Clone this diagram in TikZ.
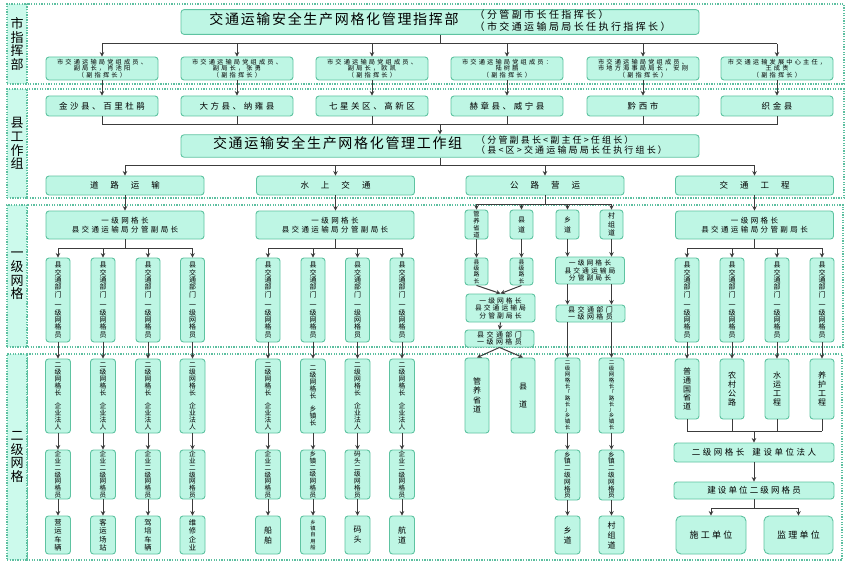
\documentclass[tikz,border=0pt]{standalone}
\usepackage{fontspec}
\setmainfont{Noto Sans CJK SC}
\usetikzlibrary{arrows.meta}
\definecolor{secc}{HTML}{5CBFA0}
\definecolor{labc}{HTML}{CCFAEC}
\definecolor{flc}{HTML}{BEF6E4}
\definecolor{bdc}{HTML}{5EC3A1}
\definecolor{arc}{HTML}{3C3C3C}
\newcommand\fsz[2]{\fontsize{#1}{#2}\selectfont}
\newcommand\lsp[1]{\addfontfeature{LetterSpace=#1}}
\begin{document}
\begin{tikzpicture}[x=1pt,y=-1pt,
 sect/.style={draw=secc,line width=1.3pt,dash pattern=on 1.3pt off 1.3pt},
 labbox/.style={sect,fill=labc,inner sep=0pt,align=center,font=\fsz{13}{13.6}},
 nbox/.style={draw=bdc,fill=flc,rounded corners=3pt,line width=0.9pt,inner sep=0.5pt,align=center},
 wh/.style 2 args={minimum width=#1,minimum height=#2},
 ln/.style={draw=arc,line width=1pt},
 arr/.style={ln,-{Stealth[length=4.5pt,width=4.5pt]}},
]
\fill[white] (0,0) rectangle (851,567);
\useasboundingbox (0,0) rectangle (851,567);
% section frames
\draw[sect] (27,4) rectangle (844,84);
\draw[sect] (27,89) rectangle (844,198);
\draw[sect] (27,205) rectangle (843,347);
\draw[sect] (27,354) rectangle (842,560);
\node[labbox,wh={20}{80}] (lab1) at (17,44) {市\\指\\挥\\部};
\node[labbox,wh={20}{109}] (lab2) at (17,143.5) {县\\工\\作\\组};
\node[labbox,wh={20}{142}] (lab3) at (17,276) {一\\级\\网\\格};
\node[labbox,wh={20}{206}] (lab4) at (17,457) {二\\级\\网\\格};
% bar coordinates
\coordinate (b1) at (0,44);
\coordinate (b2) at (0,125);
\coordinate (b3) at (0,165);
\coordinate (b4) at (0,248);
\coordinate (b5) at (0,204);
\coordinate (b6) at (0,431);
\coordinate (b7) at (0,508);
% top
\node[nbox,wh={518}{22}] (zhb) at (440,22) {\fsz{14}{16}\lsp{12}交通运输安全生产网格化管理指挥部\hspace{16pt}\fsz{10}{11}\lsp{24}\begin{tabular}{@{}l@{}}（分管副市长任指挥长）\\（市交通运输局局长任执行指挥长）\end{tabular}};
% row 1
\tikzset{r1/.style={nbox,wh={112}{23},font={\fsz{6.2}{6.6}\lsp{35}}}}
\node[r1] (r1a) at (102,68.5) {市交通运输局党组成员、\\副局长，肖池阳\\（副指挥长）};
\node[r1] (r1b) at (237,68.5) {市交通运输局党组成员、\\副局长，张勇\\（副指挥长）};
\node[r1] (r1c) at (372,68.5) {市交通运输局党组成员、\\副局长，欧凯\\（副指挥长）};
\node[r1] (r1d) at (507,68.5) {市交通运输局党组成员：\\陆树鹏\\（副指挥长）};
\node[r1] (r1e) at (643,68.5) {市交通运输局党组成员、\\市地方海事局局长，安刚\\（副指挥长）};
\node[r1] (r1f) at (777,68.5) {市交通运输发展中心主任，\\王成贵\\（副指挥长）};
% row 2
\tikzset{r2/.style={nbox,wh={112}{20},font={\fsz{8.5}{9}\lsp{30}}}}
\node[r2] (r2a) at (102,106) {金沙县、百里杜鹃};
\node[r2] (r2b) at (237,106) {大方县、纳雍县};
\node[r2] (r2c) at (372,106) {七星关区、高新区};
\node[r2] (r2d) at (507,106) {赫章县、威宁县};
\node[r2] (r2e) at (643,106) {黔西市};
\node[r2] (r2f) at (777,106) {织金县};
% working group
\node[nbox,wh={518}{22}] (gzz) at (440,146) {\fsz{14}{16}\lsp{12}交通运输安全生产网格化管理工作组\hspace{14pt}\fsz{9}{10}\lsp{24}\begin{tabular}{@{}l@{}}（分管副县长<副主任>任组长）\\（县<区>交通运输局局长任执行组长）\end{tabular}};
% row 3
\tikzset{r3/.style={nbox,wh={158}{19},font={\fsz{8.5}{9}}}}
\node[r3] (r3a) at (125,185.5) {道\hspace{12pt}路\hspace{12pt}运\hspace{12pt}输};
\node[r3] (r3b) at (335.5,185.5) {水\hspace{12pt}上\hspace{12pt}交\hspace{12pt}通};
\node[r3] (r3c) at (545,185.5) {公\hspace{12pt}路\hspace{12pt}营\hspace{12pt}运};
\node[r3] (r3d) at (754.5,185.5) {交\hspace{12pt}通\hspace{12pt}工\hspace{12pt}程};
% level-1 headers
\tikzset{h1/.style={nbox,wh={158}{28},font={\fsz{7.5}{8.5}\lsp{32}}}}
\node[h1] (h1a) at (125,225) {一级网格长\\县交通运输局分管副局长};
\node[h1] (h1b) at (335,225) {一级网格长\\县交通运输局分管副局长};
\node[h1] (h1d) at (754.5,225) {一级网格长\\县交通运输局分管副局长};
% level-1 vertical boxes
\tikzset{v1/.style={nbox,wh={24}{84},font=\fsz{7}{7.4}}}
\foreach \i/\x in {1/58,2/103,3/148,4/192.5}{
 \node[v1] (va\i) at (\x,300) {县\\交\\通\\部\\门\\[3pt]一\\级\\网\\格\\员};}
\foreach \i/\x in {1/268,2/313,3/357.5,4/402}{
 \node[v1] (vb\i) at (\x,300) {县\\交\\通\\部\\门\\[3pt]一\\级\\网\\格\\员};}
\foreach \i/\x in {1/687,2/732,3/777,4/822}{
 \node[v1] (vd\i) at (\x,300) {县\\交\\通\\部\\门\\[3pt]一\\级\\网\\格\\员};}
% level-2 road/water columns
\tikzset{p2/.style={nbox,wh={25}{74},font=\fsz{6.8}{7}},
 q2/.style={nbox,wh={25}{49},font=\fsz{6.6}{6.8}},
 s2/.style={nbox,wh={25}{38},font=\fsz{7.3}{8.5}}}
\foreach \i/\x in {1/58,2/103,3/148,4/192.5}{
 \node[p2] (pa\i) at (\x,396) {二\\级\\网\\格\\长\\[6pt]企\\业\\法\\人};
 \node[q2] (qa\i) at (\x,474.5) {企\\业\\二\\级\\网\\格\\员};}
\node[s2] (sa1) at (58,535) {营\\运\\车\\辆};
\node[s2] (sa2) at (103,535) {客\\运\\场\\站};
\node[s2] (sa3) at (148,535) {驾\\培\\车\\辆};
\node[s2] (sa4) at (192.5,535) {维\\修\\企\\业};
\node[p2] (pb1) at (268,396) {二\\级\\网\\格\\长\\[6pt]企\\业\\法\\人};
\node[p2] (pb2) at (313,396) {二\\级\\网\\格\\长\\[6pt]乡\\镇\\长};
\node[p2] (pb3) at (357.5,396) {二\\级\\网\\格\\长\\[6pt]企\\业\\法\\人};
\node[p2] (pb4) at (402,396) {二\\级\\网\\格\\长\\[6pt]企\\业\\法\\人};
\node[q2] (qb1) at (268,474.5) {企\\业\\二\\级\\网\\格\\员};
\node[q2] (qb2) at (313,474.5) {乡\\镇\\二\\级\\网\\格\\员};
\node[q2] (qb3) at (357.5,474.5) {码\\头\\二\\级\\网\\格\\员};
\node[q2] (qb4) at (402,474.5) {企\\业\\二\\级\\网\\格\\员};
\node[s2,font=\fsz{8}{10}] (sb1) at (268,535) {船\\舶};
\node[s2,font=\fsz{5.3}{6.2}] (sb2) at (313,535) {乡\\镇\\自\\用\\船};
\node[s2,font=\fsz{8}{10}] (sb3) at (357.5,535) {码\\头};
\node[s2,font=\fsz{8}{10}] (sb4) at (402,535) {航\\道};
\foreach \c in {a,b}{\foreach \i in {1,...,4}{
 \draw[arr] (v\c\i.south) -- (p\c\i.north);
 \draw[arr] (p\c\i.south) -- (q\c\i.north);
 \draw[arr] (q\c\i.south) -- (s\c\i.north);}}
% highway column
\tikzset{ct/.style={nbox,wh={23}{29}}}
\node[ct,font=\fsz{6.3}{6.8}] (ct1) at (476.5,224.5) {管\\养\\省\\道};
\node[ct,font=\fsz{7}{10}] (ct2) at (521.5,224.5) {县\\道};
\node[ct,font=\fsz{7}{10}] (ct3) at (567.5,224.5) {乡\\道};
\node[ct,font=\fsz{7}{8.5}] (ct4) at (611.5,224.5) {村\\组\\道};
\node[nbox,wh={23}{27},font=\fsz{5.8}{6.3}] (lz1) at (476.5,271.5) {县\\级\\路\\长};
\node[nbox,wh={23}{27},font=\fsz{5.8}{6.3}] (lz2) at (521.5,271.5) {县\\级\\路\\长};
\tikzset{c3/.style={nbox,wh={69}{28},font={\fsz{6.8}{7.5}\lsp{30}}},
 c2/.style={nbox,wh={69}{17},font={\fsz{7}{7.5}\lsp{35}}}}
\node[c3] (C1) at (500.5,308) {一级网格长\\县交通运输局\\分管副局长};
\node[c2] (C2) at (499.5,338.5) {县交通部门\\一级网格员};
\node[c3,minimum height=27] (C3) at (590,270.5) {一级网格长\\县交通运输局\\分管副局长};
\node[c2] (C4) at (590.5,313.5) {县交通部门\\一级网格员};
\node[nbox,wh={24}{75},font=\fsz{8}{9.3}] (cq1) at (477,395.5) {管\\养\\省\\道};
\node[nbox,wh={24}{75},font=\fsz{8}{10}] (cq2) at (523,395.5) {县\\[8pt]道};
\tikzset{pc/.style={nbox,wh={25}{75},font=\fsz{5.5}{5.9}}}
\node[pc] (pc1) at (567.5,395.5) {二\\级\\网\\格\\长\\「\\路\\长\\」\\乡\\镇\\长};
\node[pc] (pc2) at (611.5,395.5) {二\\级\\网\\格\\长\\「\\路\\长\\」\\乡\\镇\\长};
\node[q2,minimum height=50] (qc1) at (567.5,475) {乡\\镇\\二\\级\\网\\格\\员};
\node[q2,minimum height=50] (qc2) at (611.5,475) {乡\\镇\\二\\级\\网\\格\\员};
\node[s2,font=\fsz{8}{10}] (sc1) at (567.5,535) {乡\\道};
\node[s2,font=\fsz{8}{10}] (sc2) at (611.5,535) {村\\组\\道};
% traffic engineering column
\tikzset{pd/.style={nbox,wh={24}{60},font=\fsz{8}{8.8}}}
\node[pd] (pd1) at (687,389) {普\\通\\国\\省\\道};
\node[pd,font=\fsz{8}{9.2}] (pd2) at (732,389) {农\\村\\公\\路};
\node[pd,font=\fsz{8}{9.2}] (pd3) at (777,389) {水\\运\\工\\程};
\node[pd,font=\fsz{8}{9.2}] (pd4) at (822,389) {养\\护\\工\\程};
\node[nbox,wh={160}{19},font={\fsz{8.5}{9}\lsp{30}}] (E1) at (754,452.5) {二级网格长\hspace{8pt}建设单位法人};
\node[nbox,wh={160}{17},font={\fsz{8.5}{9}\lsp{25}}] (E2) at (754,490.5) {建设单位二级网格员};
\node[nbox,wh={70}{38},rounded corners=5pt,font={\fsz{9}{9}\lsp{25}}] (F1) at (711,535) {施工单位};
\node[nbox,wh={69}{38},rounded corners=5pt,font={\fsz{9}{9}\lsp{25}}] (F2) at (798.5,535) {监理单位};
% ---- connectors ----
\draw[ln] (zhb.south) -- (zhb.south |- b1);
\draw[ln] (r1a.north |- b1) -- (r1f.north |- b1);
\foreach \n in {r1a,r1b,r1c,r1d,r1e,r1f}{\draw[arr] (\n.north |- b1) -- (\n.north);}
\foreach \u/\v in {r1a/r2a,r1b/r2b,r1c/r2c,r1d/r2d,r1e/r2e,r1f/r2f}{
 \draw[arr] (\u.south) -- (\v.north);
 \draw[ln] (\v.south) -- (\v.south |- b2);}
\draw[ln] (r2a.south |- b2) -- (r2f.south |- b2);
\draw[arr] (gzz.north |- b2) -- (gzz.north);
\draw[ln] (gzz.south) -- (gzz.south |- b3);
\draw[ln] (r3a.north |- b3) -- (r3d.north |- b3);
\foreach \n in {r3a,r3b,r3c,r3d}{\draw[arr] (\n.north |- b3) -- (\n.north);}
\draw[arr] (r3a.south) -- (r3a.south |- h1a.north);
\draw[arr] (r3b.south) -- (r3b.south |- h1b.north);
\draw[arr] (r3d.south) -- (r3d.south |- h1d.north);
\foreach \h/\c in {h1a/a,h1b/b,h1d/d}{
 \draw[ln] (\h.south) -- (\h.south |- b4);
 \draw[ln] (v\c1.north |- b4) -- (v\c4.north |- b4);
 \foreach \i in {1,...,4}{\draw[arr] (v\c\i.north |- b4) -- (v\c\i.north);}}
% highway connectors
\draw[ln] (r3c.south) -- (r3c.south |- b5);
\draw[ln] (ct1.north |- b5) -- (ct4.north |- b5);
\foreach \n in {ct1,ct2,ct3,ct4}{\draw[arr] (\n.north |- b5) -- (\n.north);}
\draw[arr] (ct1.south) -- (lz1.north);
\draw[arr] (ct2.south) -- (lz2.north);
\draw[arr] (lz1.south) -- (C1.north);
\draw[arr] (lz2.south) -- (C1.north);
\draw[arr] (C1.south) -- (C2.north);
\draw[arr] (C2.south) -- (cq1.north);
\draw[arr] (C2.south) -- (cq2.north);
\draw[arr] (ct3.south) -- (ct3.south |- C3.north);
\draw[arr] (ct4.south) -- (ct4.south |- C3.north);
\draw[arr] (C3.south -| ct3) -- (C4.north -| ct3);
\draw[arr] (C3.south -| ct4) -- (C4.north -| ct4);
\draw[arr] (C4.south -| pc1) -- (pc1.north);
\draw[arr] (C4.south -| pc2) -- (pc2.north);
\foreach \i in {1,2}{
 \draw[arr] (pc\i.south) -- (qc\i.north);
 \draw[arr] (qc\i.south) -- (sc\i.north);}
% engineering connectors
\foreach \i in {1,...,4}{
 \draw[arr] (vd\i.south) -- (pd\i.north);
 \draw[ln] (pd\i.south) -- (pd\i.south |- b6);}
\draw[ln] (pd1.south |- b6) -- (pd4.south |- b6);
\draw[arr] (E1.north |- b6) -- (E1.north);
\draw[arr] (E1.south) -- (E2.north);
\draw[ln] (E2.south) -- (E2.south |- b7);
\draw[ln] (F1.north |- b7) -- (F2.north |- b7);
\draw[arr] (F1.north |- b7) -- (F1.north);
\draw[arr] (F2.north |- b7) -- (F2.north);
\end{tikzpicture}
\end{document}
